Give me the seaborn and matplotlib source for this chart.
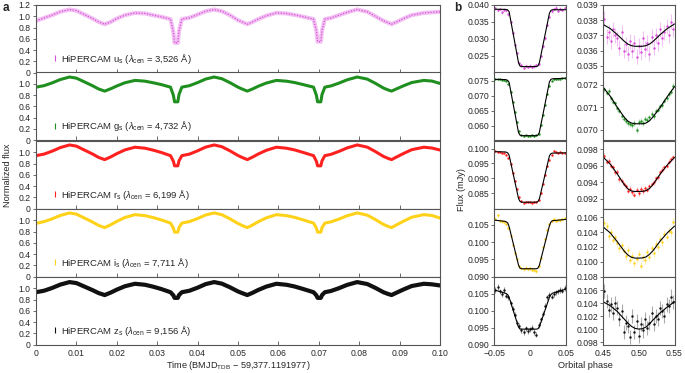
import matplotlib
matplotlib.use("Agg")
import matplotlib.pyplot as plt
from matplotlib.lines import Line2D
import seaborn as sns

# ---- panel a: light curves (normalized flux vs time) ----
time = [0.000, 0.002, 0.004, 0.006, 0.0083, 0.010, 0.012, 0.014, 0.0155, 0.0170,
        0.0185, 0.020, 0.022, 0.0245, 0.027, 0.029, 0.031, 0.0333, 0.0340, 0.0343,
        0.0351, 0.0354, 0.0361, 0.038, 0.040, 0.042, 0.0441, 0.046, 0.048, 0.050,
        0.0510, 0.0523, 0.0536, 0.055, 0.057, 0.0595, 0.062, 0.064, 0.066, 0.0687,
        0.0694, 0.0697, 0.0705, 0.0708, 0.0715, 0.073, 0.075, 0.077, 0.0795, 0.082,
        0.084, 0.086, 0.0870, 0.0880, 0.0893, 0.091, 0.093, 0.0960, 0.098, 0.100]

lc_u = [0.92, 0.97, 1.02, 1.08, 1.12, 1.10, 1.03, 0.96, 0.90, 0.86,
        0.90, 0.96, 1.02, 1.06, 1.05, 1.02, 0.99, 0.95, 0.72, 0.53,
        0.53, 0.74, 0.95, 0.975, 1.03, 1.09, 1.12, 1.09, 1.02, 0.93,
        0.90, 0.86, 0.90, 0.95, 1.01, 1.06, 1.05, 1.025, 0.995, 0.95,
        0.74, 0.55, 0.55, 0.75, 0.95, 0.97, 1.02, 1.07, 1.12, 1.08,
        1.00, 0.92, 0.89, 0.86, 0.90, 0.96, 1.02, 1.06, 1.07, 1.08]
lc_g = [0.94, 0.967, 1.016, 1.075, 1.12, 1.10, 1.033, 0.965, 0.908, 0.87,
        0.912, 0.961, 1.018, 1.06, 1.046, 1.018, 0.986, 0.94, 0.797, 0.68,
        0.68, 0.81, 0.94, 0.967, 1.021, 1.084, 1.12, 1.09, 1.02, 0.94,
        0.908, 0.87, 0.908, 0.956, 1.013, 1.06, 1.046, 1.022, 0.988, 0.94,
        0.797, 0.68, 0.68, 0.81, 0.94, 0.962, 1.012, 1.07, 1.12, 1.083,
        1.008, 0.925, 0.895, 0.87, 0.912, 0.965, 1.022, 1.06, 1.048, 1.006]
lc_r = [0.94, 0.968, 1.02, 1.083, 1.13, 1.109, 1.039, 0.969, 0.909, 0.87,
        0.918, 0.976, 1.042, 1.09, 1.072, 1.038, 0.997, 0.94, 0.841, 0.76,
        0.76, 0.85, 0.94, 0.968, 1.026, 1.092, 1.13, 1.099, 1.026, 0.943,
        0.909, 0.87, 0.914, 0.969, 1.035, 1.09, 1.072, 1.042, 1.0, 0.94,
        0.841, 0.76, 0.76, 0.85, 0.94, 0.963, 1.016, 1.077, 1.13, 1.091,
        1.013, 0.927, 0.896, 0.87, 0.918, 0.98, 1.046, 1.09, 1.075, 1.04]
lc_i = [0.945, 0.977, 1.026, 1.085, 1.13, 1.109, 1.039, 0.969, 0.909, 0.87,
        0.921, 0.98, 1.049, 1.10, 1.082, 1.048, 1.007, 0.95, 0.862, 0.79,
        0.79, 0.87, 0.95, 0.977, 1.031, 1.094, 1.13, 1.099, 1.026, 0.943,
        0.909, 0.87, 0.916, 0.974, 1.043, 1.10, 1.082, 1.052, 1.01, 0.95,
        0.862, 0.79, 0.79, 0.87, 0.95, 0.972, 1.022, 1.08, 1.13, 1.091,
        1.013, 0.927, 0.896, 0.87, 0.921, 0.985, 1.054, 1.10, 1.085, 1.04]
lc_z = [0.93, 0.957, 1.006, 1.065, 1.11, 1.092, 1.03, 0.967, 0.915, 0.88,
        0.924, 0.976, 1.036, 1.08, 1.062, 1.028, 0.987, 0.93, 0.875, 0.83,
        0.83, 0.88, 0.93, 0.957, 1.011, 1.074, 1.11, 1.082, 1.018, 0.944,
        0.915, 0.88, 0.92, 0.97, 1.03, 1.08, 1.062, 1.032, 0.99, 0.93,
        0.875, 0.83, 0.83, 0.88, 0.93, 0.952, 1.002, 1.06, 1.11, 1.075,
        1.007, 0.93, 0.903, 0.88, 0.924, 0.98, 1.04, 1.08, 1.07, 1.05]

bands = ["u", "g", "r", "i", "z"]
lam_cen = ["3,526", "4,732", "6,199", "7,711", "9,156"]

# ---- panel b, left column: primary eclipse ----
phase_p = [-0.048, -0.045, -0.042, -0.039, -0.036, -0.033, -0.030, -0.027, -0.024, -0.021, -0.018,
           -0.015, -0.012, -0.009, -0.006, -0.003, 0.000, 0.003, 0.006, 0.009, 0.012, 0.015,
           0.018, 0.021, 0.024, 0.027, 0.030, 0.033, 0.036, 0.039, 0.042, 0.045, 0.048]
pe_u = [0.0390, 0.0385, 0.0388, 0.0378, 0.0386, 0.0384, 0.0372, 0.0350, 0.0318, 0.0282, 0.0258,
        0.0228, 0.0222, 0.0215, 0.0220, 0.0217, 0.0221, 0.0216, 0.0219, 0.0223, 0.0226, 0.0249,
        0.0278, 0.0302, 0.0340, 0.0365, 0.0381, 0.0388, 0.0392, 0.0383, 0.0389, 0.0386, 0.0391]
pe_g = [0.0756, 0.0754, 0.0755, 0.0753, 0.0752, 0.0749, 0.0740, 0.0712, 0.0680, 0.0646, 0.0612,
        0.0582, 0.0568, 0.0566, 0.0568, 0.0566, 0.0567, 0.0569, 0.0566, 0.0568, 0.0574, 0.0601,
        0.0636, 0.0670, 0.0705, 0.0733, 0.0750, 0.0755, 0.0754, 0.0757, 0.0756, 0.0758, 0.0760]
pe_r = [0.0993, 0.0988, 0.0990, 0.0985, 0.0987, 0.0980, 0.0970, 0.0948, 0.0918, 0.0890, 0.0862,
        0.0835, 0.0822, 0.0817, 0.0821, 0.0818, 0.0820, 0.0816, 0.0821, 0.0819, 0.0826, 0.0850,
        0.0882, 0.0912, 0.0940, 0.0963, 0.0978, 0.0992, 0.0989, 0.0986, 0.0990, 0.0987, 0.0986]
pe_i = [0.1068, 0.1078, 0.1062, 0.1060, 0.1058, 0.1052, 0.1040, 0.1018, 0.0992, 0.0968, 0.0950,
        0.0930, 0.0925, 0.0921, 0.0926, 0.0922, 0.0924, 0.0920, 0.0918, 0.0916, 0.0930, 0.0955,
        0.0985, 0.1008, 0.1035, 0.1052, 0.1062, 0.1066, 0.1061, 0.1065, 0.1063, 0.1066, 0.1070]
pe_z = [0.1062, 0.1070, 0.1058, 0.1050, 0.1062, 0.1045, 0.1040, 0.1022, 0.1005, 0.0988, 0.0965,
        0.0955, 0.0942, 0.0938, 0.0948, 0.0940, 0.0945, 0.0950, 0.0937, 0.0930, 0.0958, 0.0975,
        0.0992, 0.1015, 0.1040, 0.1048, 0.1042, 0.1050, 0.1055, 0.1058, 0.1062, 0.1060, 0.1068]
pe_err = [0.0004, 0.0002, 0.0003, 0.0004, 0.0008]

model_phase_p = [-0.05, -0.034, -0.031, -0.029, -0.016, -0.014, -0.012, 0.009, 0.011, 0.013,
                 0.027, 0.029, 0.031, 0.05]
pm_u = [0.03875, 0.03870, 0.03855, 0.03800, 0.02300, 0.02200, 0.02180, 0.02180, 0.02200, 0.02290,
        0.03760, 0.03840, 0.03860, 0.03860]
pm_g = [0.07540, 0.07535, 0.07510, 0.07440, 0.05780, 0.05690, 0.05670, 0.05670, 0.05690, 0.05780,
        0.07460, 0.07540, 0.07560, 0.07580]
pm_r = [0.09900, 0.09890, 0.09860, 0.09780, 0.08320, 0.08220, 0.08190, 0.08190, 0.08210, 0.08300,
        0.09760, 0.09830, 0.09850, 0.09860]
pm_i = [0.10640, 0.10600, 0.10560, 0.10450, 0.09340, 0.09250, 0.09230, 0.09230, 0.09250, 0.09330,
        0.10480, 0.10580, 0.10620, 0.10660]
pm_z = [0.10620, 0.10520, 0.10480, 0.10400, 0.09520, 0.09470, 0.09460, 0.09460, 0.09470, 0.09530,
        0.10400, 0.10480, 0.10520, 0.10640]

# ---- panel b, right column: secondary eclipse ----
phase_s = [0.452, 0.455, 0.458, 0.461, 0.464, 0.467, 0.470, 0.473, 0.476, 0.479, 0.482,
           0.485, 0.488, 0.491, 0.494, 0.497, 0.500, 0.503, 0.506, 0.509, 0.512, 0.515,
           0.518, 0.521, 0.524, 0.527, 0.530, 0.533, 0.536, 0.539, 0.542, 0.545, 0.548]
se_u = [0.03810, 0.03690, 0.03720, 0.03660, 0.03740, 0.03700, 0.03680, 0.03620, 0.03720, 0.03600, 0.03640,
        0.03580, 0.03660, 0.03600, 0.03650, 0.03560, 0.03630, 0.03590, 0.03680, 0.03610, 0.03650, 0.03580,
        0.03690, 0.03620, 0.03700, 0.03650, 0.03740, 0.03680, 0.03720, 0.03760, 0.03700, 0.03790, 0.03740]
se_g = [0.07180, 0.07165, 0.07172, 0.07140, 0.07125, 0.07118, 0.07095, 0.07085, 0.07060, 0.07050, 0.07040,
        0.07030, 0.07025, 0.07020, 0.07030, 0.07000, 0.07035, 0.07040, 0.07030, 0.07050, 0.07045, 0.07055,
        0.07070, 0.07060, 0.07085, 0.07090, 0.07105, 0.07110, 0.07130, 0.07140, 0.07160, 0.07170, 0.07195]
se_r = [0.09720, 0.09650, 0.09660, 0.09600, 0.09580, 0.09520, 0.09530, 0.09440, 0.09420, 0.09380, 0.09350,
        0.09300, 0.09320, 0.09280, 0.09250, 0.09310, 0.09270, 0.09320, 0.09290, 0.09330, 0.09310, 0.09350,
        0.09380, 0.09400, 0.09450, 0.09460, 0.09520, 0.09550, 0.09580, 0.09600, 0.09650, 0.09680, 0.09700]
se_i = [0.10520, 0.10480, 0.10350, 0.10400, 0.10300, 0.10330, 0.10250, 0.10180, 0.10220, 0.10150, 0.10080,
        0.10160, 0.10020, 0.10080, 0.09980, 0.10040, 0.10110, 0.09950, 0.10060, 0.10020, 0.10130, 0.10060,
        0.10180, 0.10120, 0.10240, 0.10200, 0.10310, 0.10260, 0.10380, 0.10330, 0.10420, 0.10400, 0.10540]
se_z = [0.10580, 0.10430, 0.10300, 0.10380, 0.10250, 0.10400, 0.10320, 0.10150, 0.10280, 0.09950, 0.10100,
        0.10050, 0.09880, 0.10200, 0.09950, 0.10120, 0.09900, 0.10080, 0.09980, 0.10150, 0.10020, 0.10100,
        0.10250, 0.10080, 0.10200, 0.10150, 0.10320, 0.10280, 0.10200, 0.10380, 0.10350, 0.10500, 0.10420]
se_err = [0.0005, 0.00012, 0.0003, 0.0005, 0.0011]

model_phase_s = [0.45, 0.46, 0.47, 0.48, 0.485, 0.49, 0.495, 0.50, 0.505, 0.51, 0.515, 0.52,
                 0.53, 0.54, 0.55]
sm_u = [0.03772, 0.03745, 0.03705, 0.03660, 0.03642, 0.03632, 0.03628, 0.03628, 0.03628, 0.03632,
        0.03642, 0.03660, 0.03705, 0.03745, 0.03775]
sm_g = [0.07190, 0.07150, 0.07100, 0.07055, 0.07038, 0.07030, 0.07027, 0.07027, 0.07027, 0.07030,
        0.07040, 0.07058, 0.07100, 0.07148, 0.07192]
sm_r = [0.09705, 0.09620, 0.09500, 0.09370, 0.09320, 0.09295, 0.09290, 0.09290, 0.09292, 0.09300,
        0.09325, 0.09375, 0.09500, 0.09610, 0.09700]
sm_i = [0.10470, 0.10390, 0.10270, 0.10140, 0.10090, 0.10060, 0.10050, 0.10050, 0.10052, 0.10065,
        0.10100, 0.10150, 0.10280, 0.10390, 0.10480]
sm_z = [0.10420, 0.10360, 0.10270, 0.10150, 0.10090, 0.10040, 0.10010, 0.10000, 0.10005, 0.10030,
        0.10080, 0.10140, 0.10250, 0.10340, 0.10420]

lc = [lc_u, lc_g, lc_r, lc_i, lc_z]
pe = [pe_u, pe_g, pe_r, pe_i, pe_z]
pm = [pm_u, pm_g, pm_r, pm_i, pm_z]
se = [se_u, se_g, se_r, se_i, se_z]
sm = [sm_u, sm_g, sm_r, sm_i, sm_z]

colors = ["#d94fd9", "#1f8f1f", "#ff2020", "#ffd21a", "#111111"]

ylim_p = [(0.020, 0.040), (0.0552, 0.0777), (0.0797, 0.1026), (0.0902, 0.1096), (0.090, 0.110)]
yticks_p = [[0.025, 0.030, 0.035, 0.040], [0.060, 0.065, 0.070, 0.075],
            [0.085, 0.090, 0.095, 0.100], [0.090, 0.095, 0.100, 0.105],
            [0.090, 0.095, 0.100, 0.105]]
ylim_s = [(0.03454, 0.0390), (0.06954, 0.07255), (0.09083, 0.09897), (0.0980, 0.1071), (0.0976, 0.1080)]
yticks_s = [[0.035, 0.036, 0.037, 0.038, 0.039], [0.070, 0.071, 0.072],
            [0.092, 0.094, 0.096, 0.098], [0.100, 0.102, 0.104, 0.106],
            [0.098, 0.100, 0.102, 0.104, 0.106, 0.108]]

sns.set_style("ticks")
plt.rcParams["font.family"] = ["Liberation Sans", "DejaVu Sans"]
plt.rcParams["mathtext.fontset"] = "custom"
plt.rcParams["mathtext.rm"] = "Liberation Sans"
plt.rcParams["mathtext.it"] = "Liberation Sans:italic"
plt.rcParams["mathtext.bf"] = "Liberation Sans:bold"

fs = 6.2
spine_c = "#555555"

fig = plt.figure(figsize=(6.85, 3.73), dpi=100)

W, H = 685.0, 373.0
row_top = [5, 72.5, 141, 209, 277]
row_h = 67.7


def style_axes(ax):
    for s in ax.spines.values():
        s.set_color(spine_c)
        s.set_linewidth(0.8)
    ax.tick_params(labelsize=fs, width=0.6, color=spine_c, pad=1.5)
    ax.tick_params(axis="x", pad=3)


for k in range(5):
    b = bands[k]
    c = colors[k]
    y0 = 1 - (row_top[k] + row_h) / H
    h = row_h / H

    # panel a
    ax = fig.add_axes([36 / W, y0, 404 / W, h])
    if b == "u":
        sns.lineplot(x=time, y=lc[k], ax=ax, color=c, lw=3.0, alpha=0.35)
        sns.lineplot(x=time, y=lc[k], ax=ax, color=c, lw=0.9, ls=(0, (1, 1.2)))
    elif b == "z":
        sns.lineplot(x=time, y=lc[k], ax=ax, color=c, lw=3.0)
    else:
        sns.lineplot(x=time, y=lc[k], ax=ax, color=c, lw=2.2)
    ax.set_xlim(0, 0.1)
    ax.set_ylim(0, 1.2)
    ax.set_xticks([0, 0.01, 0.02, 0.03, 0.04, 0.05, 0.06, 0.07, 0.08, 0.09, 0.10])
    if k == 0:
        ax.set_yticks([0, 0.2, 0.4, 0.6, 0.8, 1.0, 1.2], ["0", "0.2", "0.4", "0.6", "0.8", "1.0", "1.2"])
    else:
        ax.set_yticks([0, 0.2, 0.4, 0.6, 0.8, 1.0], ["0", "0.2", "0.4", "0.6", "0.8", "1.0"])
    if k == 4:
        ax.set_xticklabels(["0", "0.01", "0.02", "0.03", "0.04", "0.05", "0.06", "0.07", "0.08",
                            "0.09", "0.10"])
    else:
        ax.set_xticklabels([])
    ax.set_xlabel("")
    ax.set_ylabel("")
    style_axes(ax)
    ax.tick_params(axis="x", direction="in", length=3)
    ax.tick_params(axis="y", direction="out", length=2.5)
    label = f"HiPERCAM {b}$_\\mathregular{{s}}$ ($\\lambda_\\mathregular{{cen}}$ = {lam_cen[k]} Å)"
    handle = Line2D([], [], color=c, marker="|", ls="none", markersize=5, mew=0.8)
    ax.legend([handle], [label], loc="lower left", bbox_to_anchor=(0.025, 0.02), frameon=False,
              fontsize=fs + 0.6, handlelength=0.6, handletextpad=0.35, borderpad=0.1)

    # panel b, primary eclipse
    axp = fig.add_axes([494 / W, y0, 72 / W, h])
    axp.errorbar(phase_p, pe[k], yerr=pe_err[k], fmt="none", ecolor=c, elinewidth=0.8, alpha=0.45)
    sns.scatterplot(x=phase_p, y=pe[k], ax=axp, color=c, s=3, linewidth=0)
    sns.lineplot(x=model_phase_p, y=pm[k], ax=axp, color="black", lw=0.8)
    axp.set_xlim(-0.05, 0.05)
    axp.set_ylim(*ylim_p[k])
    axp.set_yticks(yticks_p[k], [f"{v:.3f}" for v in yticks_p[k]])
    axp.set_xticks([-0.05, 0, 0.05])
    if k == 4:
        axp.set_xticklabels(["\u22120.05", "0", "0.05"])
    else:
        axp.set_xticklabels([])
    axp.set_xlabel("")
    axp.set_ylabel("")
    style_axes(axp)
    axp.tick_params(axis="x", length=0)
    axp.tick_params(axis="y", direction="out", length=2)

    # panel b, secondary eclipse
    axs = fig.add_axes([603 / W, y0, 71.5 / W, h])
    axs.errorbar(phase_s, se[k], yerr=se_err[k], fmt="none", ecolor=c, elinewidth=0.8, alpha=0.35)
    sns.scatterplot(x=phase_s, y=se[k], ax=axs, color=c, s=3, linewidth=0)
    sns.lineplot(x=model_phase_s, y=sm[k], ax=axs, color="black", lw=0.8)
    axs.set_xlim(0.45, 0.55)
    axs.set_ylim(*ylim_s[k])
    axs.set_yticks(yticks_s[k], [f"{v:.3f}" for v in yticks_s[k]])
    axs.set_xticks([0.45, 0.50, 0.55])
    if k == 4:
        axs.set_xticklabels(["0.45", "0.50", "0.55"])
    else:
        axs.set_xticklabels([])
    axs.set_xlabel("")
    axs.set_ylabel("")
    style_axes(axs)
    axs.tick_params(axis="x", length=0)
    axs.tick_params(axis="y", direction="out", length=2)

fig.text(3 / W, 1 - 8 / H, "a", fontsize=8.5, fontweight="bold", va="center", ha="left")
fig.text(454 / W, 1 - 8 / H, "b", fontsize=8.5, fontweight="bold", va="center", ha="left")
fig.text(8 / W, 1 - 175 / H, "Normalized flux", rotation=90, fontsize=fs + 0.4, va="center", ha="center")
fig.text(461 / W, 1 - 190 / H, "Flux (mJy)", rotation=90, fontsize=fs + 0.4, va="center", ha="center")
fig.text(238 / W, 1 - 366 / H, "Time (BMJD$_\\mathregular{TDB}$ \u2212 59,377.1191977)", fontsize=fs + 0.4,
         va="center", ha="center")
fig.text(585 / W, 1 - 366 / H, "Orbital phase", fontsize=fs + 0.4, va="center", ha="center")

fig.savefig("out.png", dpi=100)
